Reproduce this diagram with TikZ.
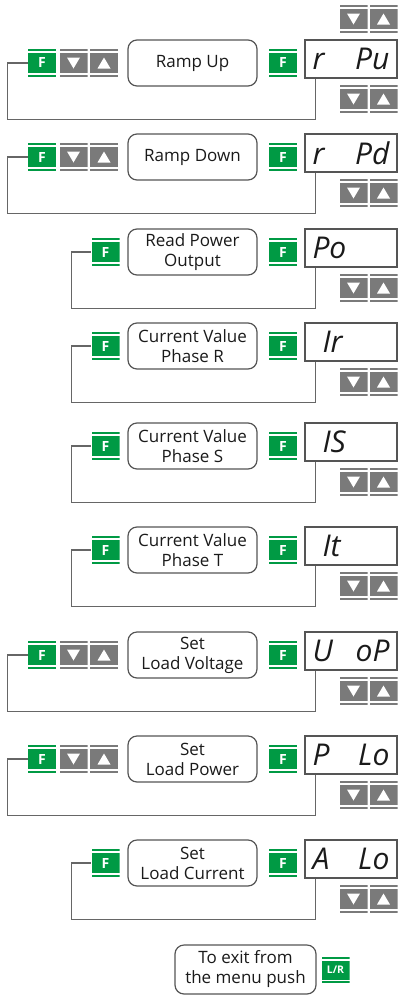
\documentclass[tikz,border=0pt]{standalone}
\usepackage{fontspec}
\setmainfont{Open Sans}
\newfontfamily\segfont{Open Sans}
\usetikzlibrary{calc}
\definecolor{ink}{HTML}{1A1A1A}
\definecolor{edge}{HTML}{555555}
\definecolor{wirec}{HTML}{666666}
\definecolor{keygreen}{HTML}{009A44}
\definecolor{keygray}{HTML}{7A7A7A}
\tikzset{
  key/.style 2 args={minimum width=28pt,minimum height=27.5pt,inner sep=0pt,fill=white,
    path picture={
      \fill[#1] ([yshift=-3.5pt]path picture bounding box.north west) rectangle ([yshift=3.5pt]path picture bounding box.south east);
      \fill[#1] (path picture bounding box.north west) rectangle ([yshift=-1.6pt]path picture bounding box.north east);
      \fill[#1] (path picture bounding box.south west) rectangle ([yshift=1.6pt]path picture bounding box.south east);
      #2}},
  fkey/.style={key={keygreen}{},text=white,font=\bfseries\fontsize{14}{14}\selectfont},
  dnkey/.style={key={keygray}{\fill[white] ([shift={(-6.5pt,5.5pt)}]path picture bounding box.center) -- ([shift={(6.5pt,5.5pt)}]path picture bounding box.center) -- ([shift={(0pt,-5.5pt)}]path picture bounding box.center) -- cycle;}},
  upkey/.style={key={keygray}{\fill[white] ([shift={(-6.5pt,-5.5pt)}]path picture bounding box.center) -- ([shift={(6.5pt,-5.5pt)}]path picture bounding box.center) -- ([shift={(0pt,5.5pt)}]path picture bounding box.center) -- cycle;}},
  menu/.style={draw=edge,line width=1.2pt,rounded corners=9pt,minimum width=129pt,minimum height=46pt,
    align=center,text=ink,inner sep=2pt,font=\fontsize{17}{20}\selectfont},
  disp/.style={draw=edge,line width=1.3pt,minimum width=92pt,minimum height=38pt,inner sep=0pt,
    text=ink,font=\segfont\itshape\fontsize{30}{30}\selectfont},
  back/.style={draw=wirec,line width=1.2pt}
}

\begin{document}
\begin{tikzpicture}[x=1pt,y=1pt]
  \useasboundingbox (0,0) rectangle (398,-996);
  % Ramp Up
  \node[dnkey] (tdn1) at (353.5,-19) {};
  \node[upkey] (tup1) at (383.5,-19) {};
  \node[fkey] (fL1) at (42,-63) {F};
  \node[dnkey] (dn1) at (73.5,-63) {};
  \node[upkey] (up1) at (104,-63) {};
  \node[menu] (item1) at (192.5,-63) {Ramp Up};
  \node[fkey] (fR1) at (283,-63) {F};
  \node[disp] (disp1) at (351,-59) {\makebox[77pt][l]{r\hfill Pu}};
  \node[dnkey] (ddn1) at (353.5,-99) {};
  \node[upkey] (dup1) at (383.5,-99) {};
  \draw[back] ([xshift=11pt]disp1.south west) -- ++(0,-41) -| ([xshift=-20pt]fL1.west) -- (fL1.west);
  % Ramp Down
  \node[fkey] (fL2) at (42,-157) {F};
  \node[dnkey] (dn2) at (73.5,-157) {};
  \node[upkey] (up2) at (104,-157) {};
  \node[menu] (item2) at (192.5,-157) {Ramp Down};
  \node[fkey] (fR2) at (283,-157) {F};
  \node[disp] (disp2) at (351,-153) {\makebox[77pt][l]{r\hfill Pd}};
  \node[dnkey] (ddn2) at (353.5,-193) {};
  \node[upkey] (dup2) at (383.5,-193) {};
  \draw[back] ([xshift=11pt]disp2.south west) -- ++(0,-41) -| ([xshift=-20pt]fL2.west) -- (fL2.west);
  % Read Power Output
  \node[fkey] (fL3) at (105.5,-252) {F};
  \node[menu] (item3) at (192.5,-252) {Read Power\\Output};
  \node[fkey] (fR3) at (283,-252) {F};
  \node[disp] (disp3) at (351,-248) {\makebox[77pt][l]{Po}};
  \node[dnkey] (ddn3) at (353.5,-288) {};
  \node[upkey] (dup3) at (383.5,-288) {};
  \draw[back] ([xshift=11pt]disp3.south west) -- ++(0,-41) -| ([xshift=-20pt]fL3.west) -- (fL3.west);
  % Phase R
  \node[fkey] (fL4) at (105.5,-346) {F};
  \node[menu] (item4) at (192.5,-346) {Current Value\\Phase R};
  \node[fkey] (fR4) at (283,-346) {F};
  \node[disp] (disp4) at (351,-342) {\makebox[77pt][l]{\hspace{10pt}Ir}};
  \node[dnkey] (ddn4) at (353.5,-382) {};
  \node[upkey] (dup4) at (383.5,-382) {};
  \draw[back] ([xshift=11pt]disp4.south west) -- ++(0,-41) -| ([xshift=-20pt]fL4.west) -- (fL4.west);
  % Phase S
  \node[fkey] (fL5) at (105.5,-446) {F};
  \node[menu] (item5) at (192.5,-446) {Current Value\\Phase S};
  \node[fkey] (fR5) at (283,-446) {F};
  \node[disp] (disp5) at (351,-442) {\makebox[77pt][l]{\hspace{10pt}IS}};
  \node[dnkey] (ddn5) at (353.5,-482) {};
  \node[upkey] (dup5) at (383.5,-482) {};
  \draw[back] ([xshift=11pt]disp5.south west) -- ++(0,-41) -| ([xshift=-20pt]fL5.west) -- (fL5.west);
  % Phase T
  \node[fkey] (fL6) at (105.5,-550) {F};
  \node[menu] (item6) at (192.5,-550) {Current Value\\Phase T};
  \node[fkey] (fR6) at (283,-550) {F};
  \node[disp] (disp6) at (351,-546) {\makebox[77pt][l]{\hspace{10pt}It}};
  \node[dnkey] (ddn6) at (353.5,-586) {};
  \node[upkey] (dup6) at (383.5,-586) {};
  \draw[back] ([xshift=11pt]disp6.south west) -- ++(0,-41) -| ([xshift=-20pt]fL6.west) -- (fL6.west);
  % Set Load Voltage
  \node[fkey] (fL7) at (42,-655) {F};
  \node[dnkey] (dn7) at (73.5,-655) {};
  \node[upkey] (up7) at (104,-655) {};
  \node[menu] (item7) at (192.5,-655) {Set\\Load Voltage};
  \node[fkey] (fR7) at (283,-655) {F};
  \node[disp] (disp7) at (351,-651) {\makebox[77pt][l]{U\hfill oP}};
  \node[dnkey] (ddn7) at (353.5,-691) {};
  \node[upkey] (dup7) at (383.5,-691) {};
  \draw[back] ([xshift=11pt]disp7.south west) -- ++(0,-41) -| ([xshift=-20pt]fL7.west) -- (fL7.west);
  % Set Load Power
  \node[fkey] (fL8) at (42,-759) {F};
  \node[dnkey] (dn8) at (73.5,-759) {};
  \node[upkey] (up8) at (104,-759) {};
  \node[menu] (item8) at (192.5,-759) {Set\\Load Power};
  \node[fkey] (fR8) at (283,-759) {F};
  \node[disp] (disp8) at (351,-755) {\makebox[77pt][l]{P\hfill Lo}};
  \node[dnkey] (ddn8) at (353.5,-795) {};
  \node[upkey] (dup8) at (383.5,-795) {};
  \draw[back] ([xshift=11pt]disp8.south west) -- ++(0,-41) -| ([xshift=-20pt]fL8.west) -- (fL8.west);
  % Set Load Current
  \node[fkey] (fL9) at (105.5,-863) {F};
  \node[menu] (item9) at (192.5,-863) {Set\\Load Current};
  \node[fkey] (fR9) at (283,-863) {F};
  \node[disp] (disp9) at (351,-859) {\makebox[77pt][l]{A\hfill Lo}};
  \node[dnkey] (ddn9) at (353.5,-899) {};
  \node[upkey] (dup9) at (383.5,-899) {};
  \draw[back] ([xshift=11pt]disp9.south west) -- ++(0,-41) -| ([xshift=-20pt]fL9.west) -- (fL9.west);
  % exit
  \node[menu,minimum width=141pt,minimum height=49pt] (exit) at (245.5,-969.5) {To exit from\\the menu push};
  \node[fkey,minimum height=26pt,font=\bfseries\fontsize{10.5}{10.5}\selectfont] (lr) at (335.5,-970) {L/R};
\end{tikzpicture}
\end{document}
